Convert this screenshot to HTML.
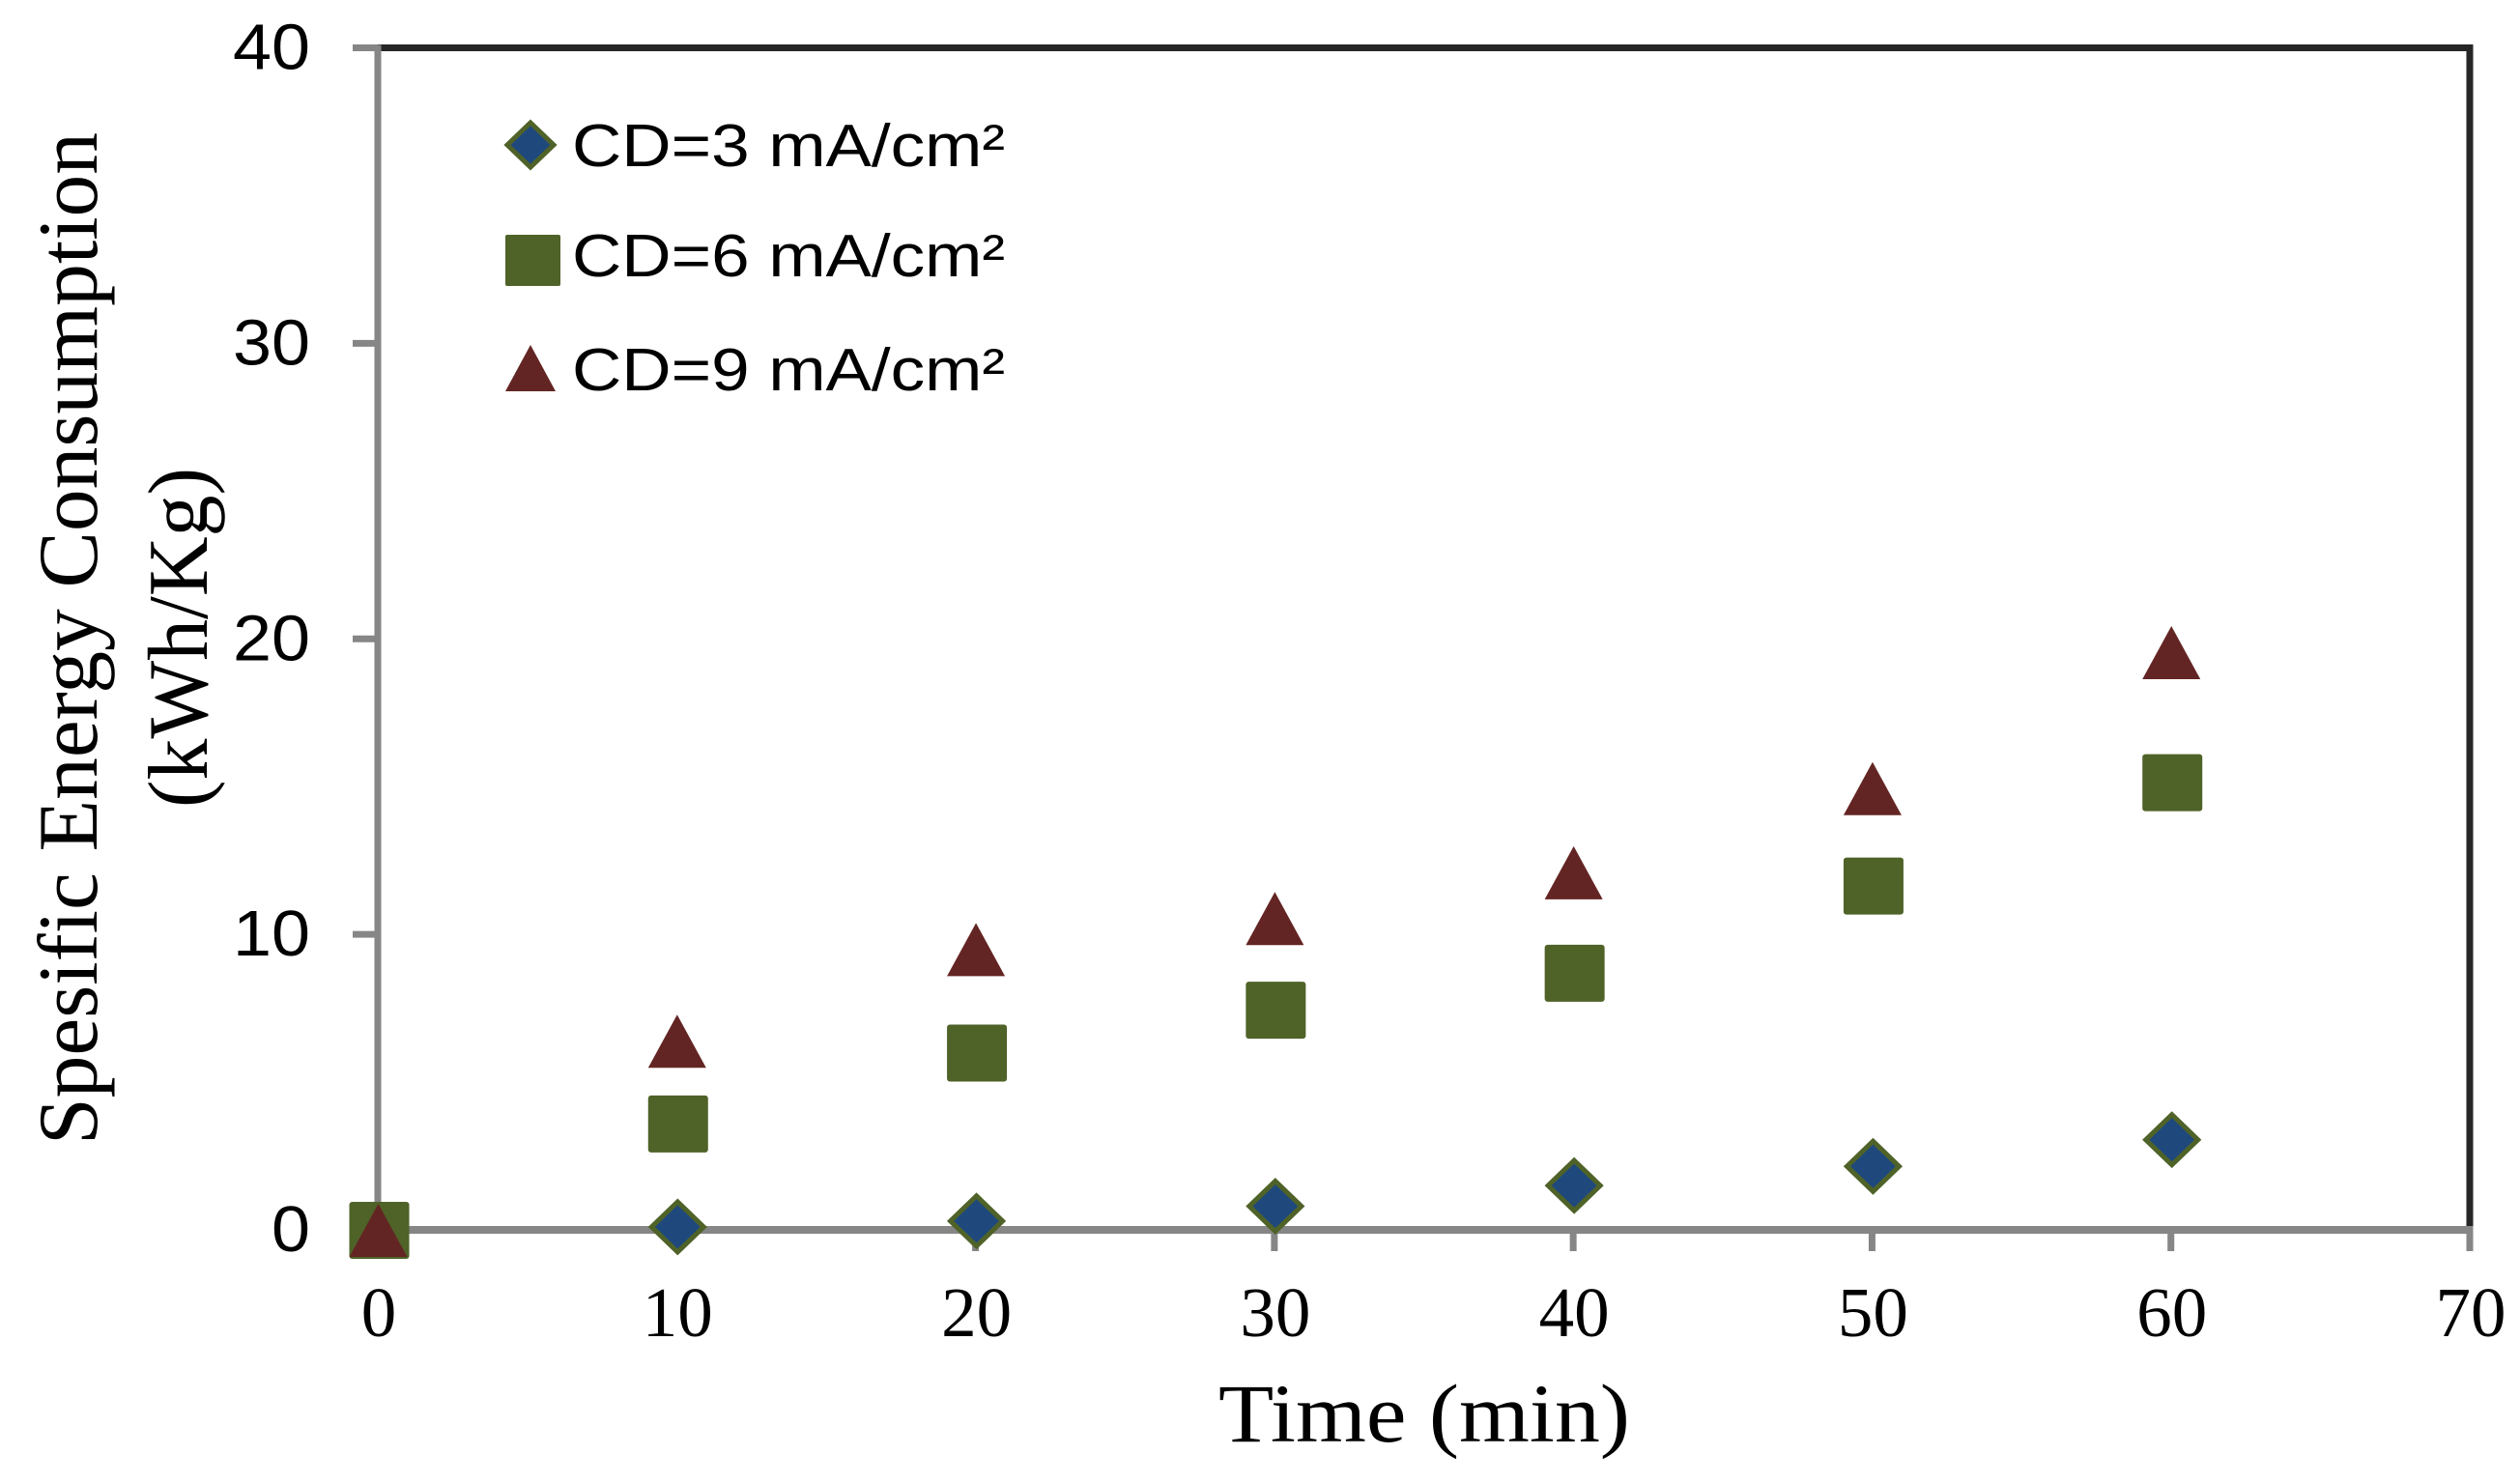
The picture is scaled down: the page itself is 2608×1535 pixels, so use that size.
<!DOCTYPE html>
<html>
<head>
<meta charset="utf-8">
<title>Specific energy consumption chart</title>
<style>
html,body{margin:0;padding:0;background:#fff;width:2608px;height:1535px;overflow:hidden}
svg{display:block}
</style>
</head>
<body>
<svg id="chart" xmlns="http://www.w3.org/2000/svg" width="2608" height="1535" viewBox="0 0 2608 1535">
  <rect x="0" y="0" width="2608" height="1535" fill="#ffffff"/>
  <g id="frame"></g>
  <g id="ticks"></g>
  <g id="xlabels"></g>
  <g id="ylabels"></g>
  <g id="marks"></g>
  <text x="1474" y="1492" text-anchor="middle" font-family="'Liberation Serif',serif" font-size="86" textLength="426" lengthAdjust="spacingAndGlyphs" fill="#000">Time (min)</text>
  <text transform="translate(100,661) rotate(-90)" text-anchor="middle" font-family="'Liberation Serif',serif" font-size="88" textLength="1048" lengthAdjust="spacingAndGlyphs" fill="#000">Spesific Energy Consumption</text>
  <text transform="translate(214,660) rotate(-90)" text-anchor="middle" font-family="'Liberation Serif',serif" font-size="88" textLength="352" lengthAdjust="spacingAndGlyphs" fill="#000">(kWh/Kg)</text>
  <g>
    <polygon points="549,127 573,150 549,173 525,150" fill="#1f497d" stroke="#4f6228" stroke-width="5"/>
    <text x="592" y="172" font-family="'Liberation Sans',sans-serif" font-size="62" textLength="448" lengthAdjust="spacingAndGlyphs" fill="#000">CD=3 mA/cm²</text>
    <rect x="523" y="243" width="57" height="53" rx="2" fill="#4f6228"/>
    <text x="592" y="286" font-family="'Liberation Sans',sans-serif" font-size="62" textLength="448" lengthAdjust="spacingAndGlyphs" fill="#000">CD=6 mA/cm²</text>
    <polygon points="549,357 575,405 523,405" fill="#632523"/>
    <text x="592" y="404" font-family="'Liberation Sans',sans-serif" font-size="62" textLength="448" lengthAdjust="spacingAndGlyphs" fill="#000">CD=9 mA/cm²</text>
  </g>
</svg>
<script>
const times = [0, 10, 20, 30, 40, 50, 60];
const cd3Values = [0, 0.1, 0.3, 0.8, 1.5, 2.15, 3.05];
const cd6Values = [0, 3.6, 6.0, 7.45, 8.7, 11.65, 15.15];
const cd9Values = [0, 6.4, 9.5, 10.55, 12.1, 14.95, 19.55];
const xTickLabels = [0, 10, 20, 30, 40, 50, 60, 70];
const yTickLabels = [0, 10, 20, 30, 40];

const NS = 'http://www.w3.org/2000/svg';
const plot = { left: 391, right: 2556, top: 49.5, bottom: 1273, xMax: 70, yMax: 40 };
function xScale(v) { return plot.left + (v / plot.xMax) * (plot.right - plot.left); }
function yScale(v) { return plot.bottom - (v / plot.yMax) * (plot.bottom - plot.top); }
function make(tag, parent, attrs) {
  const el = document.createElementNS(NS, tag);
  Object.keys(attrs).forEach(function (k) { el.setAttribute(k, attrs[k]); });
  parent.appendChild(el);
  return el;
}

const frame = document.getElementById('frame');
const topBorder = make('line', frame, { x1: plot.left, x2: plot.right + 3.5, y1: plot.top, y2: plot.top, stroke: '#262626', 'stroke-width': 7 });


const rightBorder = make('line', frame, { x1: plot.right, x2: plot.right, y1: plot.top, y2: plot.bottom, stroke: '#262626', 'stroke-width': 7 });


const yAxisLine = make('line', frame, { x1: plot.left, x2: plot.left, y1: plot.top - 3, y2: plot.bottom, stroke: '#868686', 'stroke-width': 7 });


const xAxisLine = make('line', frame, { x1: plot.left, x2: plot.right + 3.5, y1: plot.bottom, y2: plot.bottom, stroke: '#868686', 'stroke-width': 8 });



const ticks = document.getElementById('ticks');
const xLabelGroup = document.getElementById('xlabels');
const yLabelGroup = document.getElementById('ylabels');

xTickLabels.forEach(function (v) {
  const tick = make('line', ticks, { x1: xScale(v), x2: xScale(v), y1: plot.bottom, y2: 1295, stroke: '#868686', 'stroke-width': 7 });
  
  
  const label = make('text', xLabelGroup, { x: xScale(v) + 1, y: 1383, 'text-anchor': 'middle', 'font-family': "'Liberation Serif',serif", 'font-size': 73, fill: '#000' });
  
  
  label.textContent = v;
});

yTickLabels.forEach(function (v) {
  const tick = make('line', ticks, { x1: 365, x2: plot.left, y1: yScale(v), y2: yScale(v), stroke: '#868686', 'stroke-width': 7 });
  
  
  const label = make('text', yLabelGroup, { x: 321, y: yScale(v) + 22, 'text-anchor': 'end', 'font-family': "'Liberation Sans',sans-serif", 'font-size': 67, textLength: String(v).length * 40, lengthAdjust: 'spacingAndGlyphs', fill: '#000' });
  
  
  label.textContent = v;
});

const marks = document.getElementById('marks');

times.forEach(function (t, i) {
  const cx = xScale(t) + 1;
  const cy = yScale(cd3Values[i]);
  const diamond = make('polygon', marks, { points: [cx, cy - 26, cx + 27, cy, cx, cy + 26, cx - 27, cy].join(','), fill: '#1f497d', stroke: '#4f6228', 'stroke-width': 5 });
  
  
});

times.forEach(function (t, i) {
  const cx = xScale(t) + 1.5;
  const cy = yScale(cd6Values[i]);
  const square = make('rect', marks, { x: cx - 31, y: cy - 29, width: 62, height: 59, rx: 3, fill: '#4f6228' });
  
  
});

times.forEach(function (t, i) {
  const cx = xScale(t) + 0.5;
  const cy = yScale(cd9Values[i]);
  const triangle = make('polygon', marks, { points: [cx, cy - 27, cx + 30, cy + 28, cx - 30, cy + 28].join(','), fill: '#632523' });
  
  
});
</script>
</body>
</html>
